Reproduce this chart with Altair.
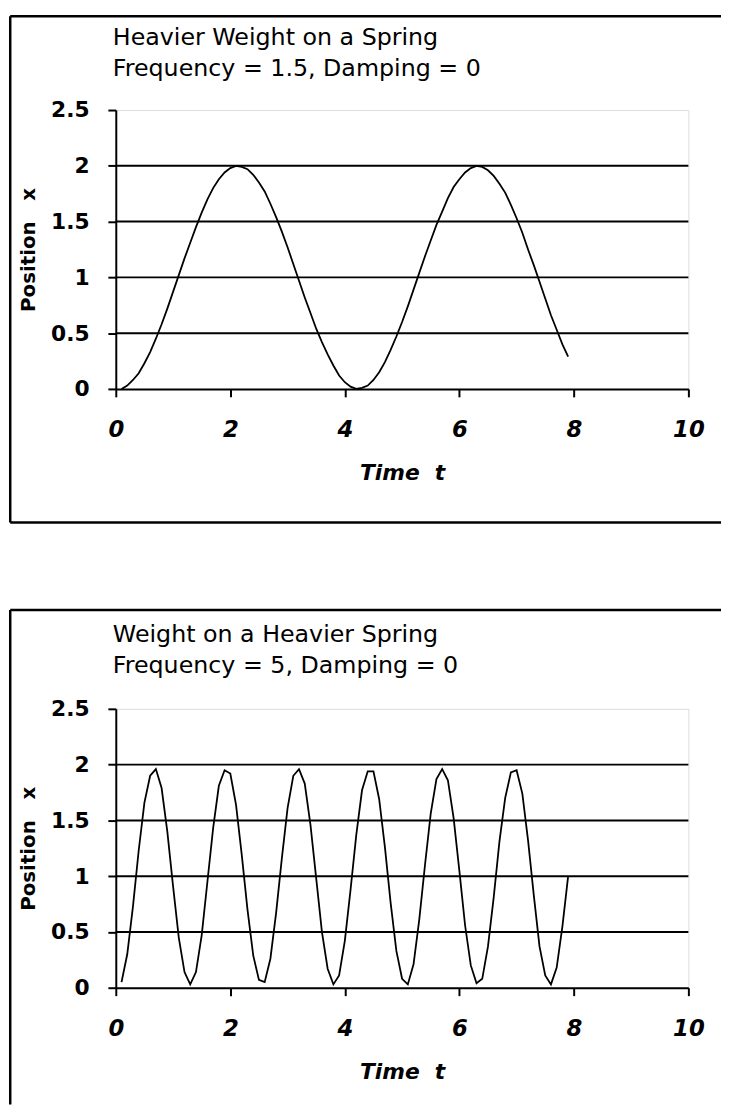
import altair as alt
import pandas as pd

# ---- data ----
time_t = [0.1, 0.2, 0.3, 0.4, 0.5, 0.6, 0.7, 0.8, 0.9, 1.0,
          1.1, 1.2, 1.3, 1.4, 1.5, 1.6, 1.7, 1.8, 1.9, 2.0,
          2.1, 2.2, 2.3, 2.4, 2.5, 2.6, 2.7, 2.8, 2.9, 3.0,
          3.1, 3.2, 3.3, 3.4, 3.5, 3.6, 3.7, 3.8, 3.9, 4.0,
          4.1, 4.2, 4.3, 4.4, 4.5, 4.6, 4.7, 4.8, 4.9, 5.0,
          5.1, 5.2, 5.3, 5.4, 5.5, 5.6, 5.7, 5.8, 5.9, 6.0,
          6.1, 6.2, 6.3, 6.4, 6.5, 6.6, 6.7, 6.8, 6.9, 7.0,
          7.1, 7.2, 7.3, 7.4, 7.5, 7.6, 7.7, 7.8, 7.9]

# Heavier weight on a spring (frequency 1.5)
pos_heavier_weight = [0.00, 0.03, 0.08, 0.14, 0.23, 0.33, 0.45, 0.58, 0.72, 0.87,
                      1.02, 1.17, 1.31, 1.45, 1.58, 1.70, 1.80, 1.88, 1.94, 1.98,
                      2.00, 1.99, 1.97, 1.92, 1.85, 1.77, 1.66, 1.54, 1.41, 1.27,
                      1.12, 0.97, 0.82, 0.68, 0.54, 0.42, 0.31, 0.21, 0.12, 0.06,
                      0.02, 0.00, 0.01, 0.03, 0.08, 0.15, 0.24, 0.35, 0.47, 0.60,
                      0.74, 0.89, 1.04, 1.19, 1.33, 1.47, 1.59, 1.71, 1.81, 1.88,
                      1.94, 1.98, 2.00, 1.99, 1.96, 1.91, 1.84, 1.76, 1.65, 1.53,
                      1.40, 1.25, 1.11, 0.96, 0.81, 0.66, 0.53, 0.40, 0.29]

# Weight on a heavier spring (frequency 5)
pos_heavier_spring = [0.05, 0.30, 0.73, 1.23, 1.66, 1.90, 1.96, 1.79, 1.40, 0.91,
                      0.45, 0.14, 0.03, 0.14, 0.47, 0.95, 1.43, 1.81, 1.95, 1.92,
                      1.64, 1.19, 0.70, 0.29, 0.07, 0.05, 0.26, 0.67, 1.16, 1.61,
                      1.90, 1.96, 1.83, 1.46, 0.98, 0.50, 0.17, 0.03, 0.11, 0.42,
                      0.88, 1.37, 1.77, 1.94, 1.94, 1.69, 1.26, 0.76, 0.33, 0.08,
                      0.03, 0.21, 0.61, 1.10, 1.56, 1.87, 1.96, 1.86, 1.52, 1.05,
                      0.56, 0.20, 0.04, 0.08, 0.37, 0.81, 1.31, 1.70, 1.93, 1.95,
                      1.74, 1.32, 0.83, 0.37, 0.11, 0.03, 0.18, 0.55, 1.00]

grid_levels = [0.5, 1.0, 1.5, 2.0]
x_ticks = [0, 2, 4, 6, 8, 10]
y_ticks = [0, 0.5, 1, 1.5, 2, 2.5]

titles = [["Heavier Weight on a Spring", "Frequency = 1.5, Damping = 0"],
          ["Weight on a Heavier Spring", "Frequency = 5, Damping = 0"]]
x_title = "Time\u00a0\u00a0t"
y_title = "Position\u00a0\u00a0\u00a0x"

FONT = "DejaVu Sans"
W, H = 579, 282


def panel(values, title_lines, frame_top, frame_bottom, title_y, draw_bottom):
    df = pd.DataFrame({"t": time_t, "x": values})
    xenc = alt.X("t:Q", scale=alt.Scale(domain=[0, 10], nice=False, zero=False),
                 axis=alt.Axis(values=x_ticks, title=x_title, grid=False, format="~r",
                               labelFlush=False,
                               labelFont=FONT, labelFontSize=23, labelFontWeight="bold",
                               labelFontStyle="italic", labelColor="black",
                               labelBaseline="alphabetic", labelPadding=40,
                               tickColor="black", tickSize=8, tickWidth=2,
                               domainColor="black", domainWidth=2,
                               titleFont=FONT, titleFontSize=22, titleFontWeight="bold",
                               titleFontStyle="italic", titleColor="black",
                               titleX=W / 2, titleY=92, titleBaseline="alphabetic",
                               titleAlign="center"))
    yenc = alt.Y("x:Q", scale=alt.Scale(domain=[0, 2.5], nice=False),
                 axis=alt.Axis(values=y_ticks, title=y_title, grid=False, format="~r",
                               labelFont=FONT, labelFontSize=22, labelFontWeight="bold",
                               labelColor="black", labelPadding=19,
                               tickColor="black", tickSize=8, tickWidth=2,
                               domainColor="black", domainWidth=2,
                               titleFont=FONT, titleFontSize=20, titleFontWeight="bold",
                               titleColor="black", titleAngle=270,
                               titleX=-82, titleY=H / 2, titleBaseline="alphabetic",
                               titleAlign="center"))

    grid = alt.Chart(pd.DataFrame({"x": grid_levels})).mark_rule(
        color="black", strokeWidth=2).encode(y=yenc)
    line = alt.Chart(df).mark_line(color="black", strokeWidth=1.8).encode(x=xenc, y=yenc)

    dummy = pd.DataFrame({"d": [0]})
    frame_t = alt.Chart(dummy).mark_rule(color="black", strokeWidth=2.5).encode(
        x=alt.value(-106.75), x2=alt.value(612), y=alt.value(frame_top))
    frame_l = alt.Chart(dummy).mark_rule(color="black", strokeWidth=2.5).encode(
        x=alt.value(-106.75), y=alt.value(frame_top), y2=alt.value(frame_bottom))
    heading = alt.Chart(dummy).mark_text(
        font=FONT, fontSize=24, color="black", align="left", baseline="alphabetic",
        lineHeight=32).encode(x=alt.value(-3), y=alt.value(title_y),
                              text=alt.value(title_lines))
    layers = [frame_t, frame_l, grid, line, heading]
    if draw_bottom:
        frame_b = alt.Chart(dummy).mark_rule(color="black", strokeWidth=2.5).encode(
            x=alt.value(-106.75), x2=alt.value(612), y=alt.value(frame_bottom))
        layers.append(frame_b)

    return alt.layer(*layers).properties(width=W, height=H)


top = panel(pos_heavier_weight, titles[0], -94.75, 417, -66, True)
bottom = panel(pos_heavier_spring, titles[1], -100, 400, -68, False)

chart = alt.vconcat(top, bottom, spacing=84.5).properties(
    padding={"left": 0, "top": 0, "right": 0, "bottom": 0}
).configure_view(stroke="#a8a8a8", strokeWidth=2).configure(background="white")

chart.save("out.html", embed_options={"renderer": "svg", "actions": False})
